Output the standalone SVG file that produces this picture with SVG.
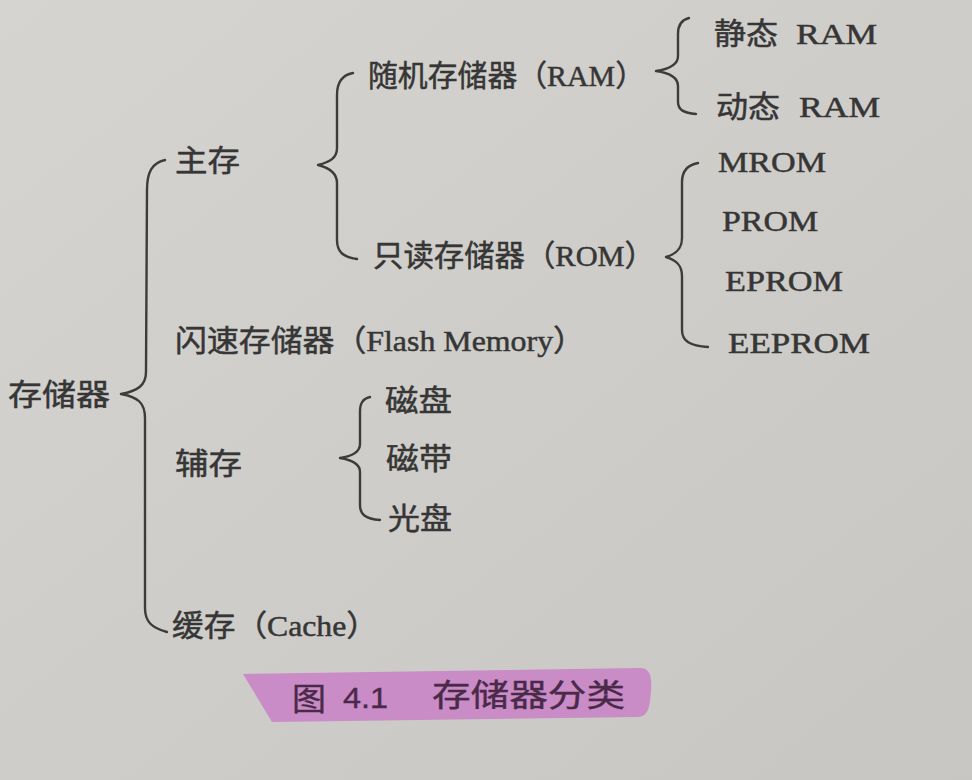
<svg xmlns="http://www.w3.org/2000/svg" width="972" height="780" viewBox="0 0 972 780">
<defs>
<linearGradient id="bg" x1="0" y1="0" x2="1" y2="1">
<stop offset="0" stop-color="#d6d4d0"/>
<stop offset="0.5" stop-color="#cfcdc9"/>
<stop offset="1" stop-color="#c8c6c2"/>
</linearGradient>
<style>
.t{font-family:"Liberation Serif","Noto Sans CJK SC",serif;font-size:30px;fill:#363636;stroke:#363636;stroke-width:0.5;}
.cap{font-family:"Liberation Serif","Noto Sans CJK SC",serif;font-size:31px;fill:#4a2a48;stroke:#4a2a48;stroke-width:0.4;}
.capn{font-family:"Liberation Sans","Noto Sans CJK SC",sans-serif;font-size:30px;fill:#4a2a48;stroke:#4a2a48;stroke-width:0.4;}
.br{fill:none;stroke:#3c3c3c;stroke-width:2.4;stroke-linecap:round;stroke-linejoin:round;}
</style>
</defs>
<rect width="972" height="780" fill="url(#bg)"/>
<g id="connectors">
<path class="br" d="M165,160 C152,163 147,172 147,190 L146,372 C146,385 138,391 121,394 C138,397 145,403 145,418 L145,608 C145,622 152,628 167,632"/>
<path class="br" d="M353,73 C342,75 337,82 337,95 L337,148 C337,158 330,162 318,165 C330,168 337,173 337,183 L337,240 C337,252 343,257 357,259"/>
<path class="br" d="M689,18 C681,20 678,26 678,34 L678,56 C678,64 670,69 656,71 C670,73 678,78 678,86 L678,102 C678,110 684,113 696,114"/>
<path class="br" d="M698,163 C687,165 682,171 682,182 L682,238 C682,249 676,254 666,257 C676,260 682,265 682,276 L682,330 C682,341 690,346 708,347"/>
<path class="br" d="M370,397 C362,399 360,404 360,412 L360,444 C360,452 353,456 340,458 C353,460 360,464 360,472 L360,505 C360,514 365,519 380,520"/>
</g>
<g id="n-storage"><text class="t" x="8" y="405" textLength="102" lengthAdjust="spacingAndGlyphs">存储器</text></g>
<g id="n-main"><text class="t" x="175" y="171" textLength="65" lengthAdjust="spacingAndGlyphs">主存</text></g>
<g id="n-ram"><text class="t" x="368" y="86" textLength="277" lengthAdjust="spacingAndGlyphs">随机存储器（RAM）</text></g>
<g id="n-rom"><text class="t" x="373" y="266" textLength="282" lengthAdjust="spacingAndGlyphs">只读存储器（ROM）</text></g>
<g id="n-sram"><text class="t" x="714" y="44" textLength="64" lengthAdjust="spacingAndGlyphs">静态</text><text class="t" x="796" y="44" textLength="81" lengthAdjust="spacingAndGlyphs">RAM</text></g>
<g id="n-dram"><text class="t" x="716" y="117" textLength="64" lengthAdjust="spacingAndGlyphs">动态</text><text class="t" x="799" y="117" textLength="81" lengthAdjust="spacingAndGlyphs">RAM</text></g>
<g id="n-mrom"><text class="t" x="718" y="172" textLength="108" lengthAdjust="spacingAndGlyphs">MROM</text></g>
<g id="n-prom"><text class="t" x="722" y="231" textLength="96" lengthAdjust="spacingAndGlyphs">PROM</text></g>
<g id="n-eprom"><text class="t" x="725" y="291" textLength="118" lengthAdjust="spacingAndGlyphs">EPROM</text></g>
<g id="n-eeprom"><text class="t" x="728" y="353" textLength="142" lengthAdjust="spacingAndGlyphs">EEPROM</text></g>
<g id="n-flash"><text class="t" x="175" y="351" textLength="410" lengthAdjust="spacingAndGlyphs">闪速存储器（Flash Memory）</text></g>
<g id="n-aux"><text class="t" x="175" y="474" textLength="67" lengthAdjust="spacingAndGlyphs">辅存</text></g>
<g id="n-disk"><text class="t" x="385" y="411" textLength="67" lengthAdjust="spacingAndGlyphs">磁盘</text></g>
<g id="n-tape"><text class="t" x="386" y="469" textLength="66" lengthAdjust="spacingAndGlyphs">磁带</text></g>
<g id="n-optical"><text class="t" x="388" y="529" textLength="64" lengthAdjust="spacingAndGlyphs">光盘</text></g>
<g id="n-cache"><text class="t" x="172" y="636" textLength="206" lengthAdjust="spacingAndGlyphs">缓存（Cache）</text></g>
<g id="caption">
<path d="M243,674 L640,668 C650,668 652,676 651,690 C650,708 648,716 638,717 L272,722 Z" fill="#c98cc6"/>
<text class="cap" x="292" y="710" textLength="34" lengthAdjust="spacingAndGlyphs">图</text>
<text class="capn" x="343" y="708" textLength="45" lengthAdjust="spacingAndGlyphs">4.1</text>
<text class="cap" x="432" y="706" textLength="193" lengthAdjust="spacingAndGlyphs">存储器分类</text>
</g>
</svg>
